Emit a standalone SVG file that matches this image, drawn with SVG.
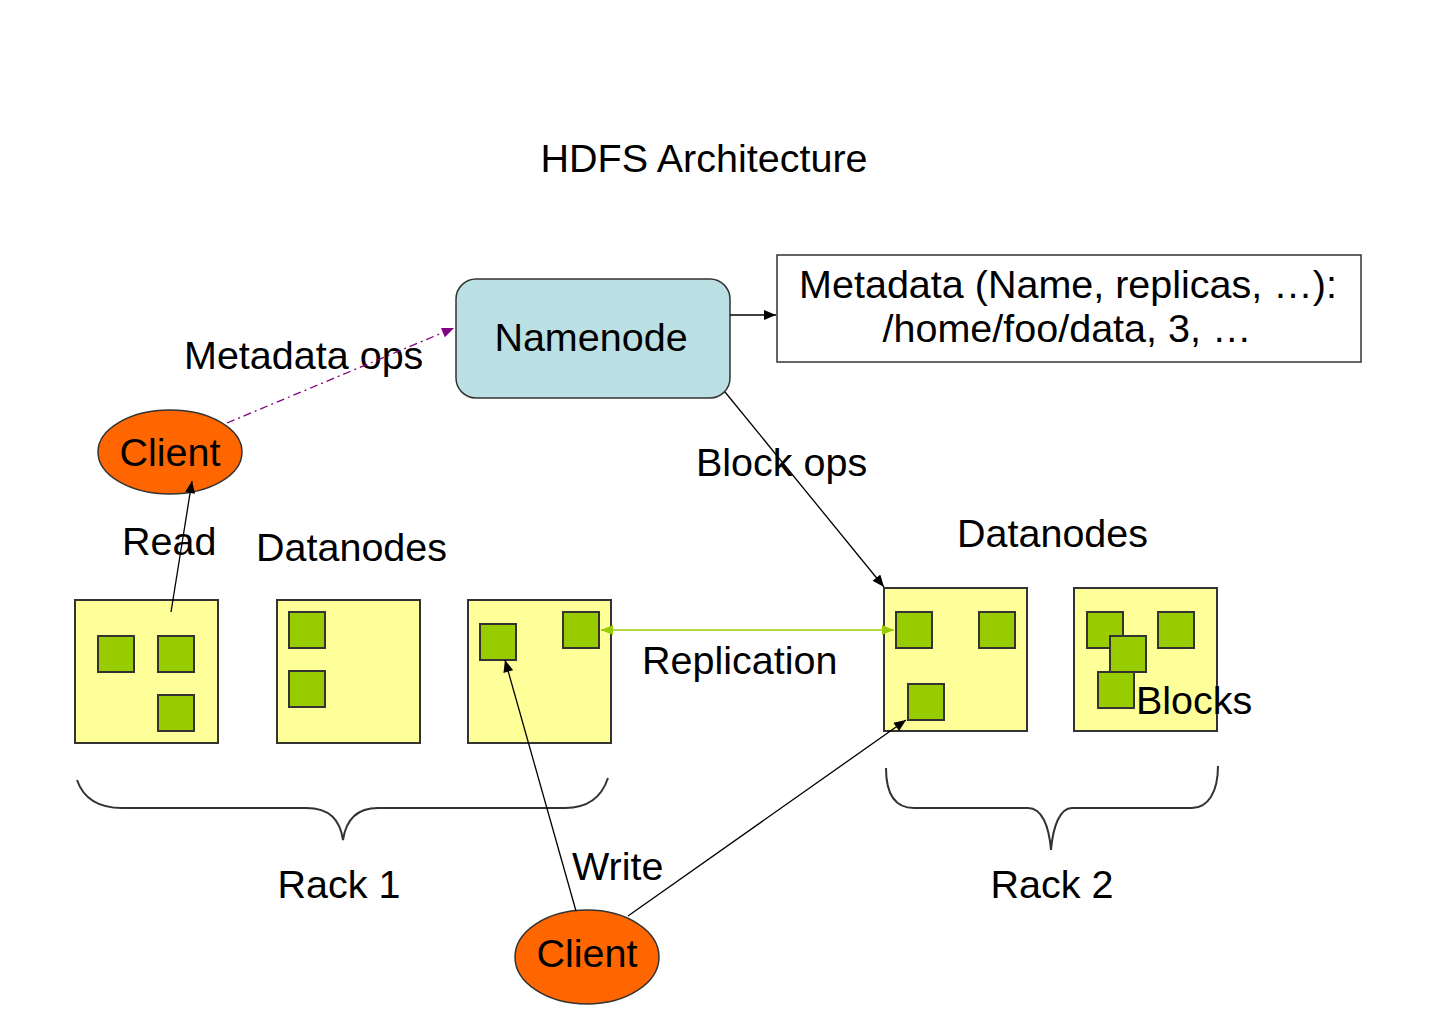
<svg xmlns="http://www.w3.org/2000/svg" width="1430" height="1032" viewBox="0 0 1430 1032">
<defs>
<style>
text{font-family:"Liberation Sans",Arial,sans-serif;font-size:39.5px;fill:#000}
.c{text-anchor:middle}
.dn{fill:#ffff99;stroke:#333;stroke-width:2}
.blk{fill:#99cc00;stroke:#333;stroke-width:2}
.cl{fill:#ff6600;stroke:#333;stroke-width:1.5}
.ln{fill:none;stroke:#000;stroke-width:1.3}
.br{fill:none;stroke:#333;stroke-width:2}
</style>
<marker id="ab" viewBox="0 0 12 10" refX="12" refY="5" markerWidth="13" markerHeight="10" markerUnits="userSpaceOnUse" orient="auto"><path d="M0,0 L12,5 L0,10 Z" fill="#000"/></marker>
<marker id="ap" viewBox="0 0 12 10" refX="12" refY="5" markerWidth="13" markerHeight="10" markerUnits="userSpaceOnUse" orient="auto"><path d="M0,0 L12,5 L0,10 Z" fill="#800080"/></marker>
<marker id="ag" viewBox="0 0 12 10" refX="12" refY="5" markerWidth="13" markerHeight="10" markerUnits="userSpaceOnUse" orient="auto-start-reverse"><path d="M0,0 L12,5 L0,10 Z" fill="#99cc00"/></marker>
</defs>
<rect width="1430" height="1032" fill="#fff"/>
<text id="title" class="c" x="704" y="172">HDFS Architecture</text>

<g id="namenode">
<rect x="456" y="279" width="274" height="119" rx="20" ry="20" fill="#bbe0e3" stroke="#333" stroke-width="1.5"/>
<text class="c" x="591" y="351">Namenode</text>
</g>

<g id="metadata">
<rect x="777" y="255" width="584" height="107" fill="#fff" stroke="#333" stroke-width="1.5"/>
<text class="c" x="1068" y="298">Metadata (Name, replicas, …):</text>
<text class="c" x="1067" y="342">/home/foo/data, 3, …</text>
</g>

<g id="client1">
<ellipse class="cl" cx="170" cy="452" rx="72" ry="42"/>
<text class="c" x="170" y="466">Client</text>
</g>

<g id="client2">
<ellipse class="cl" cx="587" cy="957" rx="72" ry="47"/>
<text class="c" x="587" y="967">Client</text>
</g>

<g id="rack1-dn1">
<rect class="dn" x="75" y="600" width="143" height="143"/>
<rect class="blk" x="98" y="636" width="36" height="36"/>
<rect class="blk" x="158" y="636" width="36" height="36"/>
<rect class="blk" x="158" y="695" width="36" height="36"/>
</g>
<g id="rack1-dn2">
<rect class="dn" x="277" y="600" width="143" height="143"/>
<rect class="blk" x="289" y="612" width="36" height="36"/>
<rect class="blk" x="289" y="671" width="36" height="36"/>
</g>
<g id="rack1-dn3">
<rect class="dn" x="468" y="600" width="143" height="143"/>
<rect class="blk" x="480" y="624" width="36" height="36"/>
<rect class="blk" x="563" y="612" width="36" height="36"/>
</g>
<g id="rack2-dn1">
<rect class="dn" x="884" y="588" width="143" height="143"/>
<rect class="blk" x="896" y="612" width="36" height="36"/>
<rect class="blk" x="979" y="612" width="36" height="36"/>
<rect class="blk" x="908" y="684" width="36" height="36"/>
</g>
<g id="rack2-dn2">
<rect class="dn" x="1074" y="588" width="143" height="143"/>
<rect class="blk" x="1087" y="612" width="36" height="36"/>
<rect class="blk" x="1158" y="612" width="36" height="36"/>
<rect class="blk" x="1110" y="636" width="36" height="36"/>
<rect class="blk" x="1098" y="672" width="36" height="36"/>
</g>

<g id="rack1">
<path class="br" d="M77,780 C84,800 100,808 122,808 L306,808 C330,808 340,820 343,840 C346,820 356,808 378,808 L565,808 C590,808 602,796 608,778"/>
<text class="c" x="339" y="898">Rack 1</text>
</g>
<g id="rack2">
<path class="br" d="M886,768 C886,795 896,808 914,808 L1028,808 C1042,808 1049,826 1051,850 C1053,826 1060,808 1072,808 L1192,808 C1208,808 1218,792 1218,766"/>
<text class="c" x="1052" y="898">Rack 2</text>
</g>

<g id="labels">
<text x="184" y="369">Metadata ops</text>
<text x="696" y="476">Block ops</text>
<text x="122" y="555">Read</text>
<text x="256" y="561">Datanodes</text>
<text x="957" y="547">Datanodes</text>
<text x="642" y="674">Replication</text>
<text x="1136" y="714">Blocks</text>
<text x="572" y="880">Write</text>
</g>

<g id="connectors">
<line x1="730" y1="315" x2="776" y2="315" class="ln" marker-end="url(#ab)"/>
<line x1="227" y1="423" x2="454" y2="328" fill="none" stroke="#800080" stroke-width="1.3" stroke-dasharray="8,4,2,4" marker-end="url(#ap)"/>
<line x1="725" y1="392" x2="884" y2="587" class="ln" marker-end="url(#ab)"/>
<line x1="171" y1="612" x2="192" y2="481" class="ln" marker-end="url(#ab)"/>
<line x1="601" y1="630" x2="894" y2="630" fill="none" stroke="#99cc00" stroke-width="1.5" marker-start="url(#ag)" marker-end="url(#ag)"/>
<line x1="576" y1="911" x2="505" y2="660" class="ln" marker-end="url(#ab)"/>
<line x1="628" y1="916" x2="906" y2="720" class="ln" marker-end="url(#ab)"/>
</g>
</svg>
